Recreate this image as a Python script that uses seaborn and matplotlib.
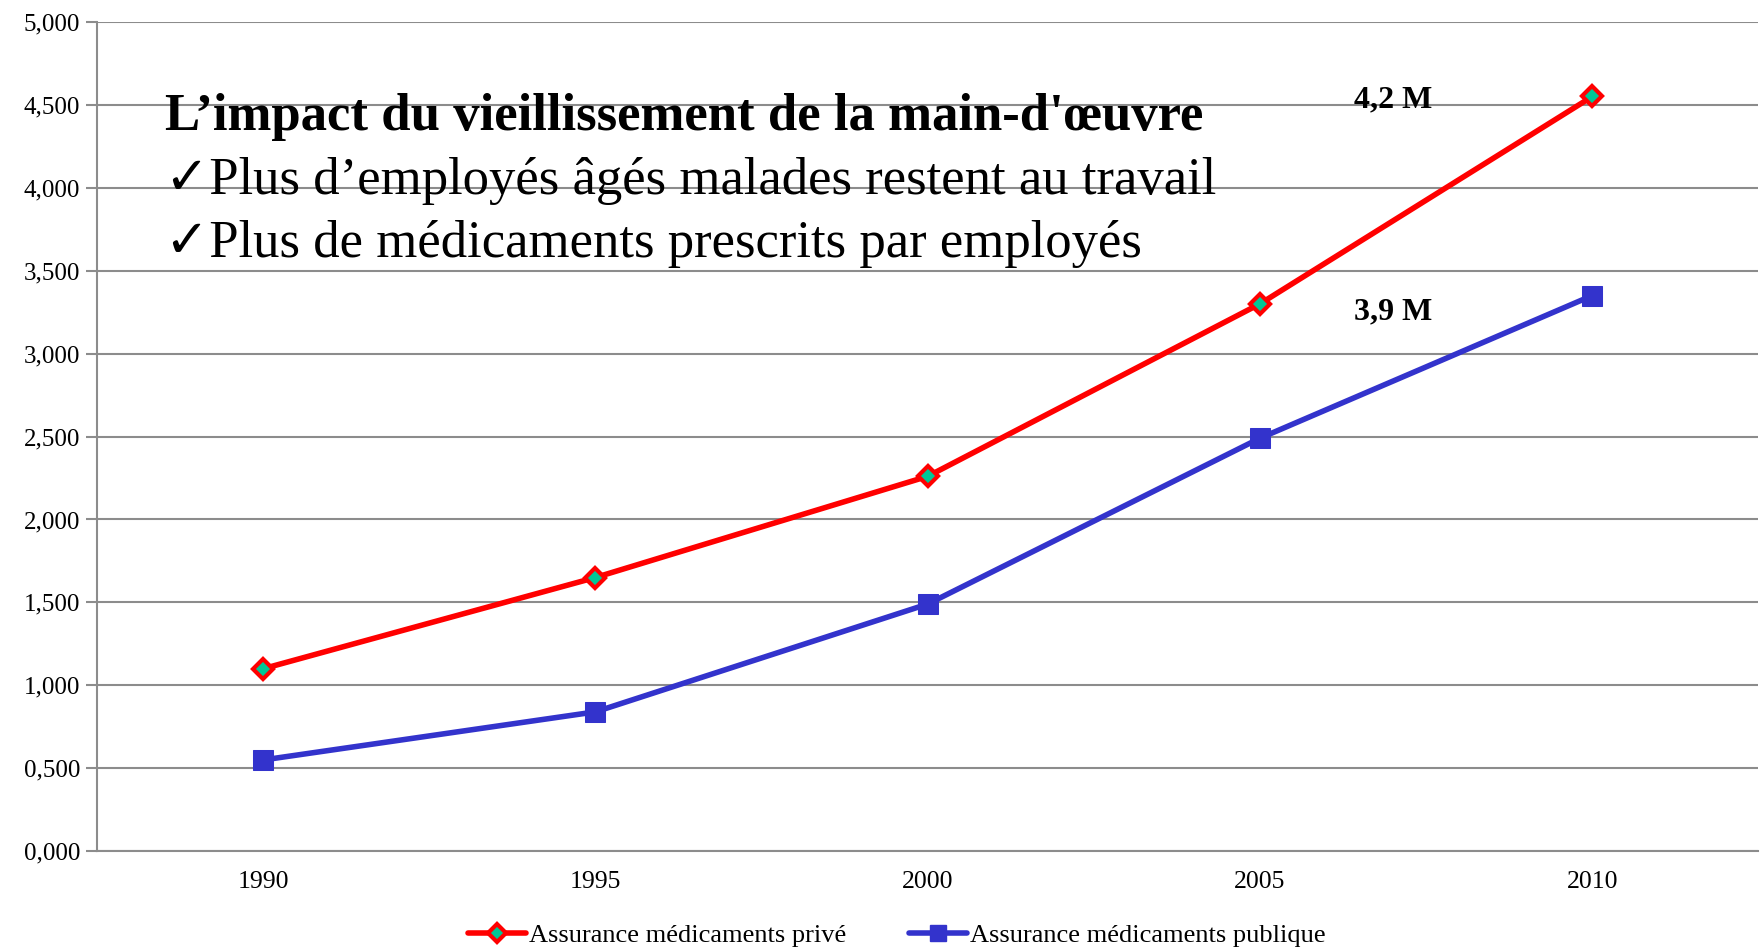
import matplotlib
matplotlib.use('Agg')
import matplotlib.pyplot as plt
from matplotlib.lines import Line2D
from matplotlib.ticker import FixedLocator, FuncFormatter
import seaborn as sns
import pandas as pd

years = ['1990', '1995', '2000', '2005', '2010']
prive = [1.10, 1.65, 2.26, 3.30, 4.55]
publique = [0.55, 0.84, 1.49, 2.49, 3.35]
yticks = [0, 0.5, 1, 1.5, 2, 2.5, 3, 3.5, 4, 4.5, 5]

label_prive = 'Assurance médicaments privé'
label_publique = 'Assurance médicaments publique'

df = pd.DataFrame({'Année': years * 2,
                   'Valeur': prive + publique,
                   'Série': [label_prive] * 5 + [label_publique] * 5})

sns.set_style('white')
plt.rcParams['font.family'] = ['Liberation Serif', 'DejaVu Sans']
plt.rcParams['text.color'] = 'black'
plt.rcParams['xtick.color'] = 'black'
plt.rcParams['ytick.color'] = 'black'

red = '#ff0000'
blue = '#3333cc'
green = '#00c896'
grid = '#8c8c8c'

fig = plt.figure(figsize=(17.62, 9.5), dpi=100)
ax = fig.add_axes([0.055, 0.104, 0.943, 0.873])

#two series, drawn separately to get distinct markers
sns.lineplot(x='Année', y='Valeur', data=df[df['Série'] == label_prive], ax=ax,
             color=red, linewidth=4, marker='D', markersize=10,
             markerfacecolor=green, markeredgecolor=red, markeredgewidth=3, zorder=4)
sns.lineplot(x='Année', y='Valeur', data=df[df['Série'] == label_publique], ax=ax,
             color=blue, linewidth=4, marker='s', markersize=14,
             markerfacecolor=blue, markeredgecolor=blue, zorder=4)

ax.set_xlim(-0.5, 4.5)
ax.set_ylim(0, 5)
ax.set_yticks(yticks)
ax.yaxis.set_major_formatter(FuncFormatter(lambda v, p: f'{v:.3f}'.replace('.', ',')))
ax.yaxis.grid(True, color=grid, linewidth=1.5)
ax.set_axisbelow(True)

ax.xaxis.set_minor_locator(FixedLocator([-0.5, 0.5, 1.5, 2.5, 3.5, 4.5]))
ax.tick_params(axis='x', which='major', length=0, pad=14, labelsize=18.5)
ax.tick_params(axis='x', which='minor', length=9, width=1.5, color=grid, direction='out')
ax.tick_params(axis='y', length=8, width=1.5, color=grid, labelcolor='black',
               labelsize=18, pad=4, left=True)
ax.set_xlabel('')
ax.set_ylabel('')

for s in ['top', 'right']:
    ax.spines[s].set_visible(False)
for s in ['left', 'bottom']:
    ax.spines[s].set_color(grid)
    ax.spines[s].set_linewidth(1.5)

fig.text(165 / 1762, 1 - 117 / 950, "L’impact du vieillissement de la main-d'œuvre",
         fontsize=38, fontweight='bold', va='center', ha='left')
fig.text(165 / 1762, 1 - 181 / 950, '✓Plus d’employés âgés malades restent au travail',
         fontsize=38, va='center', ha='left')
fig.text(165 / 1762, 1 - 244 / 950, '✓Plus de médicaments prescrits par employés',
         fontsize=38, va='center', ha='left')

ax.text(3.40, 4.53, '4,2 M', fontsize=23, fontweight='bold', ha='center', va='center')
ax.text(3.40, 3.25, '3,9 M', fontsize=23, fontweight='bold', ha='center', va='center')

handles = [Line2D([], [], color=red, linewidth=4, marker='D', markersize=9,
                  markerfacecolor=green, markeredgecolor=red, markeredgewidth=3),
           Line2D([], [], color=blue, linewidth=4, marker='s', markersize=12,
                  markerfacecolor=blue, markeredgecolor=blue)]
fig.legend(handles, [label_prive, label_publique], loc='center',
           bbox_to_anchor=(0.509, 1 - 935 / 950), ncol=2, frameon=False,
           fontsize=19, handlelength=2.2, handletextpad=0.1, columnspacing=2.4)

plt.savefig('out.png', dpi=100)
